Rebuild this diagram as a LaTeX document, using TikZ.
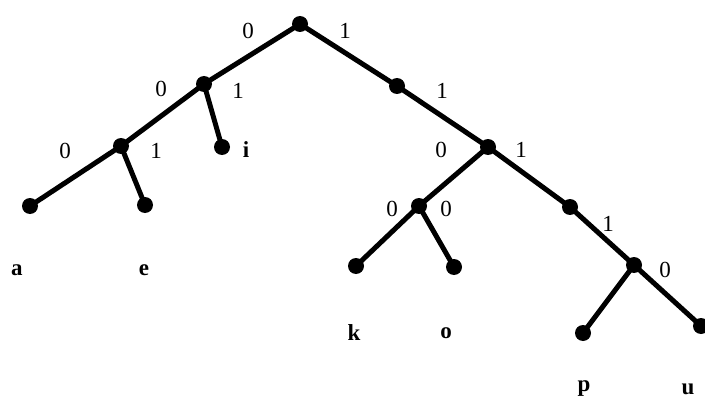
\documentclass[tikz,border=0pt]{standalone}
\usepackage{fontspec}
\setmainfont{Liberation Serif}
\begin{document}
\begin{tikzpicture}[x=1pt,y=-1pt,
  dot/.style={circle,fill=black,inner sep=0pt,minimum size=16pt},
  edge/.style={line width=5pt},
  bit/.style={font=\fontsize{23}{26}\selectfont},
  leaf/.style={font=\fontsize{23}{26}\selectfont\bfseries}]
\useasboundingbox (0,0) rectangle (705,404);
\node[dot] (r) at (300,24) {};
\node[dot] (n0) at (204,84) {};
\node[dot] (n00) at (121,146) {};
\node[dot] (la) at (30,206) {};
\node[dot] (le) at (145,205) {};
\node[dot] (li) at (222,147) {};
\node[dot] (n1) at (397,86) {};
\node[dot] (n11) at (488,147) {};
\node[dot] (n110) at (419,206) {};
\node[dot] (lk) at (356,266) {};
\node[dot] (lo) at (454,267) {};
\node[dot] (n111) at (570,207) {};
\node[dot] (n1111) at (634,265) {};
\node[dot] (lp) at (583,333) {};
\node[dot] (lu) at (701,326) {};
\draw[edge] (r.center) -- (n0.center) -- (n00.center) -- (la.center);
\draw[edge] (n00.center) -- (le.center);
\draw[edge] (n0.center) -- (li.center);
\draw[edge] (r.center) -- (n1.center) -- (n11.center) -- (n111.center) -- (n1111.center) -- (lu.center);
\draw[edge] (n11.center) -- (n110.center) -- (lk.center);
\draw[edge] (n110.center) -- (lo.center);
\draw[edge] (n1111.center) -- (lp.center);
\node[bit] (b1) at (248,31) {0};
\node[bit] (b2) at (345,31) {1};
\node[bit] (b3) at (161,89) {0};
\node[bit] (b4) at (238,91) {1};
\node[bit] (b5) at (65,151) {0};
\node[bit] (b6) at (156,151) {1};
\node[bit] (b7) at (442,91) {1};
\node[bit] (b8) at (441,150) {0};
\node[bit] (b9) at (521,150) {1};
\node[bit] (b10) at (392,209) {0};
\node[bit] (b11) at (446,209) {0};
\node[bit] (b12) at (608,224) {1};
\node[bit] (b13) at (665,270) {0};
\node[leaf] (ta) at (17,270) {a};
\node[leaf] (te) at (144,270) {e};
\node[leaf] (ti) at (246,150) {i};
\node[leaf] (tk) at (354,333) {k};
\node[leaf] (to) at (446,333) {o};
\node[leaf] (tp) at (584,389) {p};
\node[leaf] (tu) at (688,389) {u};
\end{tikzpicture}
\end{document}
